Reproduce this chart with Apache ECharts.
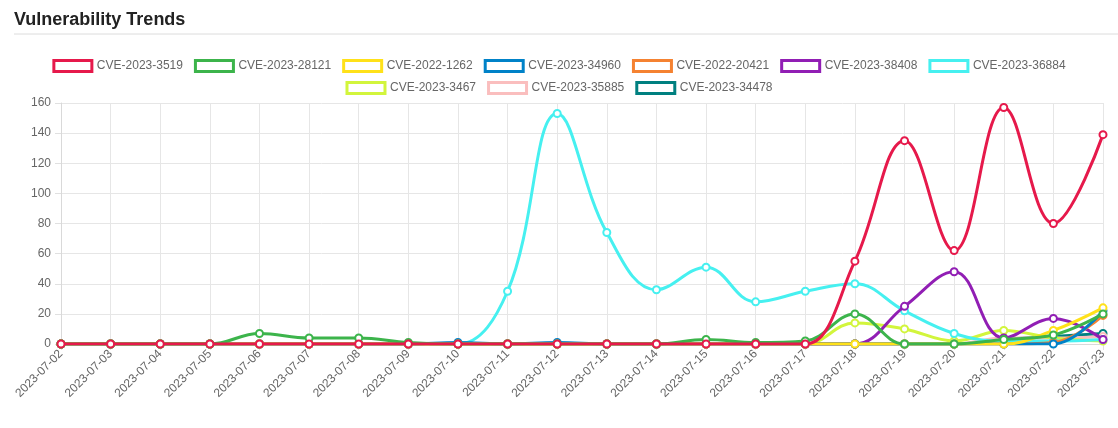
<!DOCTYPE html>
<html>
<head>
<meta charset="utf-8">
<script src="https://cdn.jsdelivr.net/npm/echarts@6/dist/echarts.min.js"></script>
<style>
html,body{margin:0;padding:0;background:#fff;}
#c{width:1118px;height:428px;}
</style>
</head>
<body>
<div id="c"></div>
<script>
const dates = ['2023-07-02','2023-07-03','2023-07-04','2023-07-05','2023-07-06','2023-07-07','2023-07-08','2023-07-09','2023-07-10','2023-07-11','2023-07-12','2023-07-13','2023-07-14','2023-07-15','2023-07-16','2023-07-17','2023-07-18','2023-07-19','2023-07-20','2023-07-21','2023-07-22','2023-07-23'];
const seriesNames = ['CVE-2023-3519','CVE-2023-28121','CVE-2022-1262','CVE-2023-34960','CVE-2022-20421','CVE-2023-38408','CVE-2023-36884','CVE-2023-3467','CVE-2023-35885','CVE-2023-34478'];
const colors = ['#e6194b','#3cb44b','#ffe119','#0082c8','#f58231','#911eb4','#46f0f0','#d2f53c','#fabebe','#008080'];
const cve_2023_3519  = [0,0,0,0,0,0,0,0,0,0,0,0,0,0,0,0,55,135,62,157,80,139];
const cve_2023_28121 = [0,0,0,0,7,4,4,1,0,0,0,0,0,3,1,2,20,0,0,3,6,20];
const cve_2022_1262  = [0,0,0,0,0,0,0,0,0,0,0,0,0,0,0,0,0,0,0,0,9,24];
const cve_2023_34960 = [0,0,0,0,0,0,0,0,1,0,1,0,0,0,0,0,0,0,0,0,0,22];
const cve_2022_20421 = [0,0,0,0,0,0,0,0,0,0,0,0,0,0,0,0,0,0,0,0,1,19];
const cve_2023_38408 = [0,0,0,0,0,0,0,0,0,0,0,0,0,0,0,0,0,25,48,4,17,3];
const cve_2023_36884 = [0,0,0,0,0,0,0,0,0,35,153,74,36,51,28,35,40,22,7,2,2,3];
const cve_2023_3467  = [0,0,0,0,0,0,0,0,0,0,0,0,0,0,0,0,14,10,2,9,4,2];
const cve_2023_35885 = [0,0,0,0,0,0,0,0,0,0,0,0,0,0,0,0,0,0,0,4,4,5];
const cve_2023_34478 = [0,0,0,0,0,0,0,0,0,0,0,0,0,0,0,0,0,0,0,3,5,7];
const seriesData = [cve_2023_3519,cve_2023_28121,cve_2022_1262,cve_2023_34960,cve_2022_20421,cve_2023_38408,cve_2023_36884,cve_2023_3467,cve_2023_35885,cve_2023_34478];
const yTicks = {min:0,max:160,interval:20};

const chart = echarts.init(document.getElementById('c'), null, {renderer:'canvas'});
const font = '"Liberation Sans", Arial, Helvetica, sans-serif';
function legendItems(names){
  return names.map(n=>{
    const i = seriesNames.indexOf(n);
    return {name:n, icon:'rect', itemStyle:{color:'rgba(255,255,255,0)', borderColor:colors[i], borderWidth:3}};
  });
}
const legendCommon = {
  itemWidth:38, itemHeight:11, itemGap:11,
  textStyle:{color:'#666', fontSize:12, fontFamily:font},
  selectedMode:true
};
chart.setOption({
  animation:false,
  color:colors,
  title:{text:'Vulnerability Trends', left:9, top:6, textStyle:{fontSize:18, fontWeight:'bold', color:'#222', fontFamily:font}},
  graphic:[{type:'line', shape:{x1:14,y1:34,x2:1118,y2:34}, style:{stroke:'#dcdcdc', lineWidth:1}}],
  legend:[
    Object.assign({data:legendItems(seriesNames.slice(0,7)), left:'center', top:54}, legendCommon),
    Object.assign({data:legendItems(seriesNames.slice(7)), left:'center', top:76}, legendCommon)
  ],
  grid:{left:61, right:15, top:103, bottom:84, containLabel:false},
  xAxis:{
    type:'category', data:dates, boundaryGap:false,
    axisLine:{show:true, lineStyle:{color:'#d9d9d9'}},
    axisTick:{show:true, length:6, lineStyle:{color:'#e0e0e0'}},
    splitLine:{show:true, lineStyle:{color:'#e6e6e6'}},
    axisLabel:{rotate:45, color:'#666', fontSize:12, fontFamily:font, margin:8, interval:0}
  },
  yAxis:{
    type:'value', min:yTicks.min, max:yTicks.max, interval:yTicks.interval,
    axisLine:{show:true, lineStyle:{color:'#d9d9d9'}},
    axisTick:{show:true, length:6, lineStyle:{color:'#e0e0e0'}},
    splitLine:{show:true, lineStyle:{color:'#e6e6e6'}},
    axisLabel:{color:'#666', fontSize:12, fontFamily:font, margin:10}
  },
  series: seriesNames.map((n,i)=>({
    name:n, type:'line', data:seriesData[i], smooth:0.4,
    z: 30 - i,
    symbol:'emptyCircle', symbolSize:7, showSymbol:true,
    lineStyle:{width:3, color:colors[i]},
    itemStyle:{color:colors[i], borderColor:colors[i], borderWidth:1},
    emphasis:{disabled:true}
  }))
});
</script>
</body>
</html>
